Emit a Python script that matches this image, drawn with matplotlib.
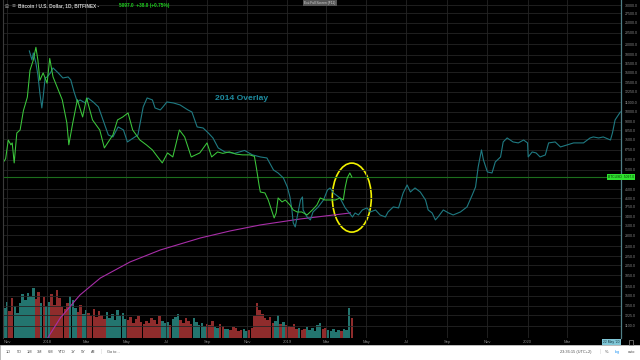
import matplotlib
matplotlib.use('Agg')
import matplotlib.pyplot as plt
import matplotlib.transforms as mtransforms
from matplotlib.patches import Ellipse, Rectangle
from matplotlib.ticker import NullLocator
import numpy as np
import pandas as pd

plt.rcParams['font.family'] = ['Liberation Sans', 'DejaVu Sans']

# BTCUSD daily close, Bitfinex
btc_dates = ['2017-10-26', '2017-10-30', '2017-11-03', '2017-11-07', '2017-11-09', '2017-11-12',
             '2017-11-16', '2017-11-21', '2017-11-26', '2017-12-02', '2017-12-06', '2017-12-11',
             '2017-12-15', '2017-12-18', '2017-12-21', '2017-12-26', '2018-01-01', '2018-01-05',
             '2018-01-10', '2018-01-18', '2018-01-24', '2018-01-31', '2018-02-03', '2018-02-09',
             '2018-02-16', '2018-02-24', '2018-03-02', '2018-03-11', '2018-03-22', '2018-03-29',
             '2018-04-11', '2018-04-18', '2018-04-26', '2018-05-04', '2018-05-11', '2018-05-22',
             '2018-06-01', '2018-06-10', '2018-06-18', '2018-06-25', '2018-07-03', '2018-07-11',
             '2018-07-21', '2018-07-29', '2018-08-08', '2018-08-21', '2018-09-01', '2018-09-08',
             '2018-09-17', '2018-09-25', '2018-10-05', '2018-10-15', '2018-10-25', '2018-11-05',
             '2018-11-12', '2018-11-15', '2018-11-19', '2018-11-21', '2018-11-28', '2018-12-03',
             '2018-12-09', '2018-12-12', '2018-12-15', '2018-12-18', '2018-12-24', '2018-12-29',
             '2019-01-05', '2019-01-10', '2019-01-16', '2019-01-23', '2019-01-31', '2019-02-08',
             '2019-02-15', '2019-02-20', '2019-02-27', '2019-03-07', '2019-03-15', '2019-03-22',
             '2019-03-27', '2019-03-30', '2019-04-02', '2019-04-06', '2019-04-09']
btc_close = [5900, 6150, 7460, 7100, 7240, 5890,
             8020, 8275, 10100, 11600, 15300, 17000,
             19400, 17000, 13800, 14900, 13400, 17300,
             14300, 12500, 11300, 8900, 7100, 8900,
             11300, 9460, 11500, 9175, 8275, 6875,
             7860, 9175, 9460, 9860, 8275, 7460,
             7090, 6735, 6265, 5890, 6530, 6265,
             8275, 7700, 6265, 6530, 7240, 6265,
             6595, 6500, 6600, 6450, 6400, 6400,
             6300, 5600, 4700, 4365, 4322, 4020,
             3552, 3340, 3517, 4105, 3940, 4020,
             3818, 3627, 3552, 3552, 3445, 3627,
             3818, 4105, 4020, 4020, 4020, 4105,
             4020, 4597, 5045, 5310, 5097]

# 2014 fractal overlay: days from 2018-01-01 and price
overlay_days = [-27, -23, -21, -17, -14, -11, -8, -6, -3, 0, 5, 9, 17, 24, 32, 36, 41, 46, 50, 58,
                62, 70, 78, 85, 93, 100, 108, 116, 122, 131, 138, 146, 152, 160, 164, 172, 176, 182,
                192, 202, 214, 220, 228, 237, 245, 252, 260, 270, 285, 300, 312, 324, 334, 344, 351,
                359, 365, 369, 372, 374, 377, 380, 385, 388, 389, 395, 400, 404, 412, 420, 426, 430,
                435, 445, 453, 458, 464, 468, 473, 479, 486, 491, 499, 506, 514, 518, 526, 534, 541,
                547, 552, 559, 567, 575, 579, 585, 590, 594, 602, 610, 617, 628, 638, 646, 651, 655,
                660, 663, 669, 676, 681, 689, 693, 699, 708, 716, 724, 730, 731, 737, 743, 749, 757,
                762, 772, 780, 790, 800, 815, 825, 830, 838, 845, 856, 859, 863, 871]
overlay_price = [18690, 17030, 18300, 16510, 14590, 12120, 10380, 11630, 14140, 14290, 14890, 15680,
                 14890, 14140, 14290, 13855, 12240, 11040, 11275, 10930, 11510, 11040, 10490, 9175,
                 7860, 7700, 8535, 8275, 7312, 7620, 7860, 10490, 11510, 11275, 10380, 10170, 10490,
                 11040, 10930, 10710, 10170, 9960, 8535, 8446, 8020, 7620, 6875, 6600, 6500, 6700,
                 6400, 6265, 6200, 5478, 5310, 5045, 4597, 4148, 3627, 3174, 3044, 3374, 4020, 4148,
                 3627, 3374, 3273, 3552, 3742, 4020, 4457, 4551, 4322, 4105, 3704, 3552, 3374, 3517,
                 3445, 3627, 3704, 3552, 3627, 3445, 3374, 3552, 3742, 3704, 4322, 4693, 4365, 4551,
                 4365, 4020, 3627, 3517, 3273, 3374, 3627, 3517, 3445, 3552, 3742, 4235, 4597, 5650,
                 6735, 6074, 5367, 5310, 5950, 6265, 7312, 7620, 7312, 7240, 7460, 7240, 6265, 6595,
                 6530, 6265, 6395, 7240, 7312, 6944, 7090, 7240, 7240, 7620, 7700, 7620, 7700, 7460,
                 8020, 9175, 9960]

# long moving average (magenta)
ma_days = [-6, 20, 50, 81, 126, 172, 233, 278, 324, 385, 461]
ma_price = [900, 1191, 1510, 1799, 2122, 2401, 2718, 2921, 3108, 3306, 3517]

# volume, 4-day bars starting 2017-10-26 (thousand BTC)
vol_start = '2017-10-26'
vol_step = 4
volume = [60, 72, 55, 80, 64, 50, 70, 88, 76,
          90, 84, 100, 78, 92, 70, 82, 64,
          72, 88, 66, 96, 80, 62, 58, 70,
          84, 76, 60, 52, 66, 48, 56,
          50, 44, 58, 42, 54, 46, 38, 52,
          40, 48, 36, 56, 44, 50, 38,
          36, 42, 30, 38, 44, 32, 28, 34,
          30, 40, 36, 28, 44, 34, 30,
          32, 26, 38, 42, 48, 36, 30, 40,
          34, 28, 40, 32, 26, 30, 24, 28,
          26, 34, 22, 20, 28, 24, 18,
          18, 16, 22, 20, 14, 16, 18, 14,
          16, 20, 44, 70, 56, 48, 40,
          36, 42, 30, 34, 46, 28, 32, 26,
          24, 22, 28, 18, 20, 16, 18, 22,
          16, 20, 14, 26, 30, 18, 20,
          16, 14, 18, 12, 16, 14, 18, 16,
          60, 40]

month_labels = ['Nov', '2018', 'Mar', 'May', 'Jul', 'Sep', 'Nov', '2019', 'Mar', 'May', 'Jul',
                'Sep', 'Nov', '2020', 'Mar']
month_dates = ['2017-11-01', '2018-01-01', '2018-03-01', '2018-05-01', '2018-07-01', '2018-09-01',
               '2018-11-01', '2019-01-01', '2019-03-01', '2019-05-01', '2019-07-01', '2019-09-01',
               '2019-11-01', '2020-01-01', '2020-03-01']

price_ticks = [30000, 27500, 25000, 22500, 20000, 18000, 16500, 15000, 13500, 12250, 11000, 10000,
               9000, 8250, 7500, 6750, 6100, 5500, 4500, 4100, 3750, 3400, 3100, 2800, 2500, 2250,
               2050, 1850, 1650, 1500, 1350, 1225, 1100]

last_price = 5097.0
change = 38.0
change_pct = 0.75

T0 = pd.Timestamp('2018-01-01')


def to_days(d):
    return np.asarray((pd.to_datetime(d) - T0).days)


W, H = 640, 360
fig = plt.figure(figsize=(6.4, 3.6), dpi=100, facecolor='black')
rect = [3 / W, 1 - 338 / H, 618 / W, 338 / H]
ax = fig.add_axes(rect)
vax = ax.twinx()
ax.set_zorder(vax.get_zorder() + 1)
ax.patch.set_visible(False)
vax.set_facecolor('black')

ax.set_yscale('log')
ax.set_xlim(-67, 872)
ax.set_ylim(969, 31590)

# volume
btc_x = to_days(btc_dates)
vol_x = to_days(vol_start) + np.arange(len(volume)) * vol_step
p0 = np.interp(vol_x, btc_x, btc_close)
p1 = np.interp(vol_x + vol_step, btc_x, btc_close)
colors = np.where(p1 >= p0, '#23756f', '#8f2c2c')
vax.bar(vol_x + vol_step / 2, volume, width=vol_step * 0.95, color=colors, linewidth=0)
vax.set_ylim(0, 680)
vax.set_yticks([])
for s in vax.spines.values():
    s.set_visible(False)

# grid + ticks
ax.yaxis.tick_right()
ax.yaxis.set_minor_locator(NullLocator())
ax.set_yticks(price_ticks)
ax.set_yticklabels([f'{v:.1f}' for v in price_ticks])
ax.set_xticks(to_days(month_dates))
ax.set_xticklabels(month_labels)
ax.tick_params(axis='x', length=0, pad=1.2, labelsize=3.0, labelcolor='#8a8a8a')
ax.tick_params(axis='y', which='both', length=0, pad=2.5, labelsize=2.6, labelcolor='#8a8a8a')
ax.grid(True, color='#252525', lw=0.6)
for side in ['top', 'bottom']:
    ax.spines[side].set_visible(False)
ax.spines['left'].set_color('#3a3a3a')
ax.spines['right'].set_color('#4f7f86')
ax.spines['right'].set_linewidth(0.9)

# series
ax.plot(ma_days, ma_price, color='#a82ea8', lw=0.8)
ax.axhline(last_price, color='#1c6e1c', lw=0.8)
ax.plot(overlay_days, overlay_price, color='#1f7a82', lw=0.8)
ax.plot(btc_x, btc_close, color='#3cc83c', lw=0.75)

ax.text(296, 11500, '2014 Overlay', color='#1e8ca0', fontsize=6.1, fontweight='bold',
        ha='center', va='center', family=['Liberation Sans', 'DejaVu Sans'])

# yellow circle around the recent breakout
trans = fig.dpi_scale_trans + mtransforms.ScaledTranslation(463, 4120, ax.transData)
ax.add_artist(Ellipse((0, 0), 0.39, 0.69, transform=trans, fill=False, ec='#f2f200', lw=1.2,
                      clip_on=False))

# last price badge
ax.text(1.0, last_price, 'BTCUSD  5097.0', transform=ax.get_yaxis_transform(), ha='center',
        va='center', fontsize=2.4, color='#063306', clip_on=False, zorder=10,
        bbox=dict(boxstyle='square,pad=0.25', fc='#2fe22f', ec='none'))

# header legend
fig.text(5 / W, 1 - 6 / H, '⊞', fontsize=3.4, color='#9a9a9a', va='center',
         family=['DejaVu Sans'])
fig.text(12 / W, 1 - 6 / H, '≡', fontsize=3.4, color='#9a9a9a', va='center',
         family=['DejaVu Sans'])
fig.text(18 / W, 1 - 6 / H, 'Bitcoin / U.S. Dollar, 1D, BITFINEX -', fontsize=3.4,
         color='#d0d0d0', va='center', fontweight='bold')
fig.text(119 / W, 1 - 6 / H, f'{last_price:.1f}  +{change:.1f} (+{change_pct:.2f}%)',
         fontsize=3.4, color='#1fd21f', va='center', fontweight='bold')
fig.text(320 / W, 1 - 3 / H, 'Exit Full Screen (F11)', fontsize=2.3, color='#d8d8d8',
         ha='center', va='center', bbox=dict(boxstyle='square,pad=0.3', fc='#555555', ec='none'))

# date cursor badge
fig.text(611.5 / W, 1 - 342 / H, "22 May '20", fontsize=2.4, color='#10303a', ha='center',
         va='center', bbox=dict(boxstyle='square,pad=0.25', fc='#7fc6d6', ec='none'))
fig.patches.append(Rectangle((629 / W, 1 - 345 / H), 4 / W, 5 / H, transform=fig.transFigure,
                             fill=False, ec='#8a8a8a', lw=0.5))

# bottom toolbar
fig.patches.append(Rectangle((0, 0), 1, 15 / H, transform=fig.transFigure, fc='white',
                             ec='#d8d8d8', lw=0.5, zorder=0))
ty = 1 - 352 / H
for lbl, px in zip(['1D', '5D', '1M', '3M', '6M', 'YTD', '1Y', '5Y', 'All'],
                   [8, 19, 29, 40, 50, 62, 73, 83, 93]):
    fig.text(px / W, ty, lbl, fontsize=2.8, color='#4a4a4a', ha='center', va='center')
fig.text(101 / W, ty, '|', fontsize=3.5, color='#cfcfcf', ha='center', va='center')
fig.text(107 / W, ty, 'Go to...', fontsize=2.8, color='#4a4a4a', va='center')
fig.text(576 / W, ty, '23:36:15 (UTC+2)', fontsize=2.8, color='#4a4a4a', ha='center', va='center')
fig.text(600 / W, ty, '|', fontsize=3.5, color='#cfcfcf', ha='center', va='center')
fig.text(607 / W, ty, '%', fontsize=2.8, color='#4a4a4a', ha='center', va='center')
fig.text(617 / W, ty, 'log', fontsize=2.8, color='#2196f3', ha='center', va='center')
fig.text(631 / W, ty, 'auto', fontsize=2.8, color='#4a4a4a', ha='center', va='center')

fig.savefig('out.png', dpi=100, facecolor='black')
